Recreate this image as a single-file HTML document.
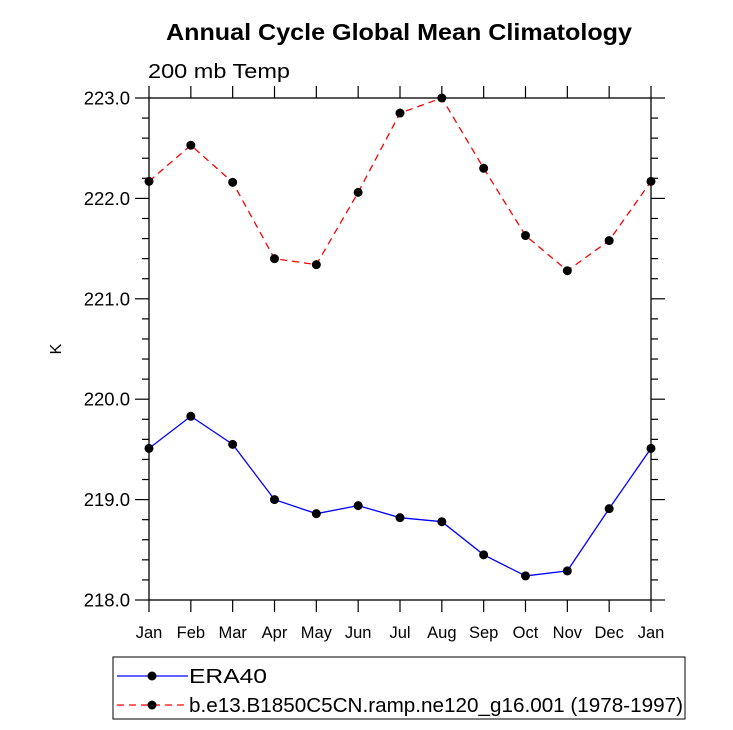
<!DOCTYPE html>
<html><head><meta charset="utf-8"><style>body{margin:0;background:#fff}svg{display:block;font-family:"Liberation Sans",sans-serif}</style></head>
<body>
<svg id="chart" width="733" height="730" viewBox="0 0 733 730">
<text x="166" y="40" font-size="23" font-weight="bold" textLength="466" lengthAdjust="spacingAndGlyphs">Annual Cycle Global Mean Climatology</text>
<text x="148" y="78" font-size="20" textLength="142" lengthAdjust="spacingAndGlyphs">200 mb Temp</text>
<text transform="translate(61,349) rotate(-90)" text-anchor="middle" font-size="16">K</text>
<g id="axes"></g><g id="series"></g>
<g>
<rect x="113" y="657" width="572" height="62" fill="none" stroke="#000" stroke-width="1"/>
<line x1="117" y1="676" x2="188" y2="676" stroke="#00f" stroke-width="1.2"/>
<circle cx="152" cy="676" r="4.5"/>
<text x="189" y="683" font-size="20" textLength="78" lengthAdjust="spacingAndGlyphs">ERA40</text>
<line x1="117" y1="705" x2="188" y2="705" stroke="#f00" stroke-width="1.2" stroke-dasharray="7,5"/>
<circle cx="152" cy="705" r="4.5"/>
<text x="189" y="712" font-size="20" textLength="494" lengthAdjust="spacingAndGlyphs">b.e13.B1850C5CN.ramp.ne120_g16.001 (1978-1997)</text>
</g>
</svg>
<script>
const months=["Jan","Feb","Mar","Apr","May","Jun","Jul","Aug","Sep","Oct","Nov","Dec","Jan"];
const era40=[219.51,219.83,219.55,219.0,218.86,218.94,218.82,218.78,218.45,218.24,218.29,218.91,219.51];
const model=[222.17,222.53,222.16,221.40,221.34,222.06,222.85,223.0,222.30,221.63,221.28,221.58,222.17];
const yTicks=[218,219,220,221,222,223];
const NS="http://www.w3.org/2000/svg";
const L=149,R=651,T=98,B=600,ymin=218,ymax=223;
const xs=i=>L+(R-L)*i/(months.length-1);
const ys=v=>B-(v-ymin)/(ymax-ymin)*(B-T);
function mk(t,a,p){const e=document.createElementNS(NS,t);for(const k in a)e.setAttribute(k,a[k]);p.appendChild(e);return e;}
const ax=document.getElementById('axes');
const fr=mk('rect',{x:L,y:T,width:R-L,height:B-T,fill:'none',stroke:'#000','stroke-width':1.3},ax);


months.forEach((m,i)=>{const x=xs(i);
mk('line',{x1:x,y1:B,x2:x,y2:B+12,stroke:'#000','stroke-width':1.2},ax);
mk('line',{x1:x,y1:T,x2:x,y2:T-12,stroke:'#000','stroke-width':1.2},ax);
const t=mk('text',{x:x,y:B+38,'text-anchor':'middle','font-size':16.5},ax);t.textContent=m;

});
for(let v=ymin;v<=ymax+1e-9;v+=0.2){const y=ys(v);const maj=Math.abs(v-Math.round(v))<1e-6;const l=maj?14:7;
mk('line',{x1:L,y1:y,x2:L-l,y2:y,stroke:'#000','stroke-width':1.2},ax);
mk('line',{x1:R,y1:y,x2:R+l,y2:y,stroke:'#000','stroke-width':1.2},ax);}
yTicks.forEach(v=>{const t=mk('text',{x:L-19,y:ys(v)+6.5,'text-anchor':'end','font-size':18.5},ax);t.textContent=v.toFixed(1);

});
const sg=document.getElementById('series');
function draw(vals,color,dash,name){
const p=mk('polyline',{points:vals.map((v,i)=>xs(i)+','+ys(v)).join(' '),fill:'none',stroke:color,'stroke-width':1.3,'stroke-dasharray':dash},sg);


vals.forEach((v,i)=>{const c=mk('circle',{cx:xs(i),cy:ys(v),r:4.5,fill:'#000'},sg);

});}
draw(era40,'#00f','none','era40');
draw(model,'#f00','7,5','model');
</script>
</body></html>
